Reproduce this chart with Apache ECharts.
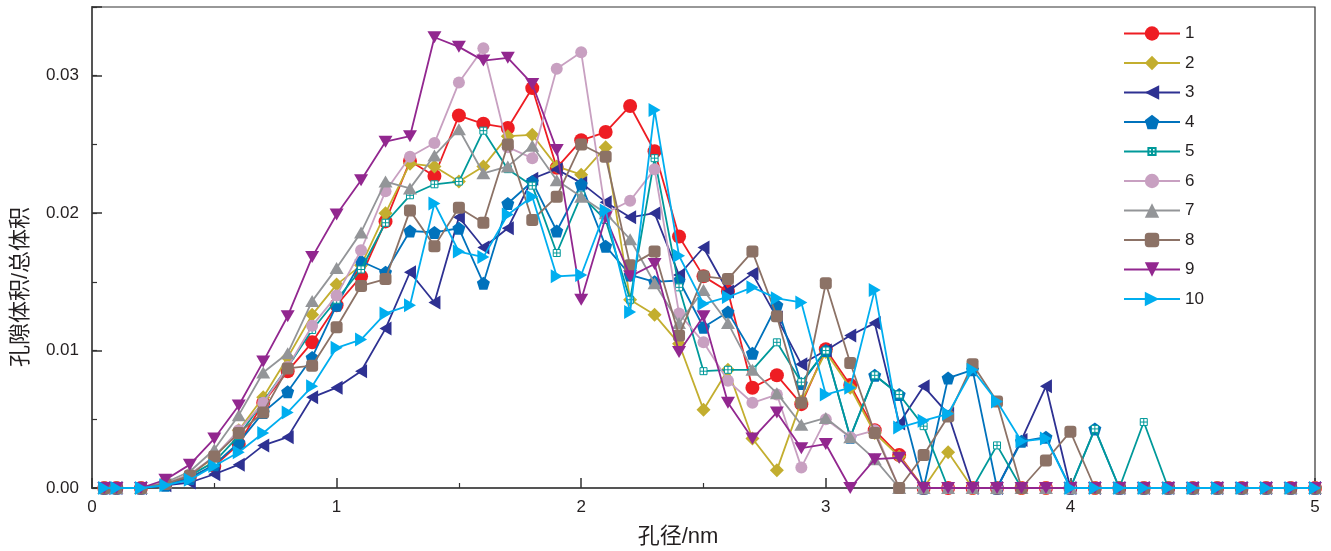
<!DOCTYPE html>
<html><head><meta charset="utf-8">
<script src="https://cdn.jsdelivr.net/npm/echarts@6/dist/echarts.min.js"></script>
<style>html,body{margin:0;padding:0;background:#fff}#c{width:1331px;height:551px}</style>
</head><body><div id="c"></div>
<script>
const xVals = [0.05,0.1,0.2,0.3,0.4,0.5,0.6,0.7,0.8,0.9,1.0,1.1,1.2,1.3,1.4,1.5,1.6,1.7,1.8,1.9,2.0,2.1,2.2,2.3,2.4,2.5,2.6,2.7,2.8,2.9,3.0,3.1,3.2,3.3,3.4,3.5,3.6,3.7,3.8,3.9,4.0,4.1,4.2,4.3,4.4,4.5,4.6,4.7,4.8,4.9,5.0];
const s1 = [0,0,0,0.0003,0.0008,0.0016,0.0032,0.0062,0.0085,0.0106,0.0133,0.0154,0.0194,0.0238,0.0227,0.0271,0.0265,0.0262,0.0291,0.0233,0.0253,0.0259,0.0278,0.0245,0.0183,0.0154,0.0143,0.0073,0.0082,0.0061,0.0101,0.0075,0.0042,0.0024,0,0,0,0,0,0,0,0,0,0,0,0,0,0,0,0,0];
const s2 = [0,0,0,0.0003,0.0010,0.0022,0.0042,0.0066,0.0095,0.0126,0.0148,0.0162,0.0200,0.0236,0.0234,0.0223,0.0234,0.0256,0.0257,0.0234,0.0228,0.0248,0.0137,0.0126,0.0105,0.0057,0.0086,0.0036,0.0013,0.0063,0.0099,0.0073,0.0040,0.0023,0,0.0026,0,0,0,0,0,0,0,0,0,0,0,0,0,0,0];
const s3 = [0,0,0,0.0002,0.0004,0.0010,0.0017,0.0031,0.0037,0.0066,0.0073,0.0085,0.0116,0.0157,0.0135,0.0197,0.0175,0.0189,0.0225,0.0232,0.0222,0.0208,0.0197,0.0200,0.0155,0.0175,0.0143,0.0156,0.0124,0.0090,0.0100,0.0111,0.0120,0.0047,0.0074,0.0054,0,0,0.0035,0.0074,0,0,0,0,0,0,0,0,0,0,0];
const s4 = [0,0,0,0.0002,0.0007,0.0017,0.0033,0.0055,0.0070,0.0095,0.0133,0.0165,0.0157,0.0187,0.0186,0.0189,0.0149,0.0207,0.0223,0.0187,0.0221,0.0176,0.0155,0.0150,0.0151,0.0117,0.0128,0.0098,0.0133,0.0076,0.0100,0.0037,0.0082,0.0068,0,0.0080,0.0086,0,0.0034,0.0037,0,0.0043,0,0,0,0,0,0,0,0,0];
const s5 = [0,0,0,0.0003,0.0009,0.0019,0.0038,0.0063,0.0088,0.0115,0.0137,0.0159,0.0193,0.0213,0.0221,0.0223,0.0260,0.0232,0.0220,0.0171,0.0213,0.0195,0.0137,0.0240,0.0146,0.0085,0.0086,0.0086,0.0106,0.0077,0.0100,0.0037,0.0082,0.0068,0.0045,0,0,0.0031,0,0,0,0.0043,0,0.0048,0,0,0,0,0,0,0];
const s6 = [0,0,0,0.0003,0.0010,0.0023,0.0042,0.0062,0.0088,0.0118,0.0140,0.0173,0.0216,0.0241,0.0251,0.0295,0.0320,0.0248,0.0240,0.0305,0.0317,0.0200,0.0209,0.0232,0.0127,0.0106,0.0078,0.0062,0.0068,0.0015,0.0050,0.0037,0.0042,0,0,0,0,0,0,0,0,0,0,0,0,0,0,0,0,0,0];
const s7 = [0,0,0,0.0004,0.0012,0.0028,0.0053,0.0084,0.0098,0.0136,0.0160,0.0186,0.0223,0.0218,0.0242,0.0261,0.0229,0.0234,0.0249,0.0224,0.0212,0.0200,0.0181,0.0149,0.0120,0.0144,0.0120,0.0086,0.0069,0.0046,0.0051,0.0037,0.0021,0,0,0,0,0,0,0,0,0,0,0,0,0,0,0,0,0,0];
const s8 = [0,0,0,0.0003,0.0009,0.0023,0.0040,0.0055,0.0087,0.0089,0.0117,0.0147,0.0152,0.0202,0.0176,0.0204,0.0193,0.0250,0.0195,0.0212,0.0250,0.0241,0.0162,0.0172,0.0111,0.0154,0.0152,0.0172,0.0125,0.0062,0.0149,0.0091,0.0040,0,0.0024,0.0052,0.0090,0.0063,0,0.0020,0.0041,0,0,0,0,0,0,0,0,0,0];
const s9 = [0,0,0,0.0006,0.0017,0.0036,0.0060,0.0092,0.0125,0.0168,0.0199,0.0224,0.0252,0.0256,0.0328,0.0321,0.0311,0.0313,0.0294,0.0246,0.0137,0.0197,0.0154,0.0163,0.0099,0.0125,0.0062,0.0036,0.0055,0.0029,0.0032,0,0.0021,0.0022,0,0,0,0,0,0,0,0,0,0,0,0,0,0,0,0,0];
const s10 = [0,0,0,0.0002,0.0006,0.0016,0.0026,0.0040,0.0055,0.0074,0.0102,0.0108,0.0127,0.0133,0.0207,0.0172,0.0168,0.0199,0.0212,0.0154,0.0155,0.0202,0.0128,0.0275,0.0169,0.0134,0.0139,0.0146,0.0138,0.0135,0.0068,0.0073,0.0144,0.0044,0.0049,0.0054,0.0086,0.0063,0.0034,0.0036,0,0,0,0,0,0,0,0,0,0,0];
const seriesNames = ['1','2','3','4','5','6','7','8','9','10'];
const yTickLabels = ['0.00','0.01','0.02','0.03'];
const xTickLabels = ['0','1','2','3','4','5'];

const allData = [s1,s2,s3,s4,s5,s6,s7,s8,s9,s10];
const colors = ['#EE1D23','#C3AE2F','#2E3192','#0072BC','#00999A','#C8A0C1','#939598','#8C7266','#92278F','#00AEEF'];
const symbols = [
  'circle',
  'diamond',
  'path://M0,50L86.6,0L86.6,100Z',
  'path://M50,0L100,38L81,100L19,100L0,38Z',
  'path://M-5,-5M0,0L10,0L10,10L0,10Z M5,0L5,10 M0,5L10,5 M15,15',
  'circle',
  'path://M50,0L100,86.6L0,86.6Z',
  'roundRect',
  'path://M0,0L100,0L50,86.6Z',
  'path://M0,0L86.6,50L0,100Z'
];
const sizes = [[14,14],[14,14],[12,14],[13,13],[14,14],[12,12],[14,12],[12,12],[14,12],[12,14]];

const series = allData.map((d, i) => {
  const itemStyle = i === 4
    ? {color:'#ffffff', borderColor: colors[i], borderWidth: 1}
    : {color: colors[i]};
  return {
    name: seriesNames[i],
    type: 'line',
    data: xVals.map((x, k) => [x, d[k]]),
    symbol: symbols[i],
    symbolSize: sizes[i],
    showAllSymbol: true,
    clip: false,
    lineStyle: {color: colors[i], width: 1.8},
    itemStyle: itemStyle,
    emphasis: {disabled: true},
    animation: false,
    z: 2 + i
  };
});

const chart = echarts.init(document.getElementById('c'), null, {renderer:'canvas'});
const fontNum = '"Liberation Sans", Arial, sans-serif';
chart.setOption({
  animation: false,
  backgroundColor: '#ffffff',
  grid: {left: 92, right: 16, top: 7, bottom: 63, show: true, borderColor: '#333', borderWidth: 1.2, backgroundColor: 'transparent'},
  legend: {
    data: seriesNames, orient: 'vertical', left: 1118, top: 20,
    itemWidth: 56, itemHeight: 18, itemGap: 12.5,
    textStyle: {fontSize: 17, color: '#231F20', fontFamily: fontNum},
    selectedMode: false
  },
  xAxis: {
    type: 'value', min: 0, max: 5, interval: 1,
    axisLine: {show: true, lineStyle: {color: '#555', width: 2}},
    axisTick: {show: true, inside: true, length: 10, lineStyle: {color: '#333', width: 1.5}},
    minorTick: {show: true, splitNumber: 2, length: 5, lineStyle: {color: '#333', width: 1.2}},
    axisLabel: {fontSize: 17, color: '#231F20', margin: 11, fontFamily: fontNum,
      formatter: v => { const i = Math.round(v); return Math.abs(v - i) < 1e-6 ? xTickLabels[i] : ''; }},
    splitLine: {show: false}
  },
  yAxis: [
    {
      type: 'value', min: 0, max: 0.035, interval: 0.01, position: 'left',
      axisLine: {show: true, lineStyle: {color: '#555', width: 2}},
      axisTick: {show: true, inside: true, length: 10, lineStyle: {color: '#333', width: 1.5}},
      axisLabel: {fontSize: 17, color: '#231F20', margin: 13, fontFamily: fontNum,
        formatter: v => { const i = Math.round(v * 100); return Math.abs(v * 100 - i) < 1e-6 && i < yTickLabels.length ? yTickLabels[i] : ''; }},
      splitLine: {show: false}
    },
    {
      type: 'value', min: 0, max: 0.035, interval: 0.005, position: 'left',
      axisLine: {show: false},
      axisTick: {show: true, inside: true, length: 5, lineStyle: {color: '#333', width: 1.2}},
      axisLabel: {show: false},
      splitLine: {show: false}
    }
  ],
  graphic: [
    {type: 'text', x: 678, y: 537, style: {text: '孔径/nm', font: '22px "Liberation Sans", "Noto Sans CJK SC"', fill: '#231F20', align: 'center', verticalAlign: 'middle'}},
    {type: 'text', x: 21, y: 287, rotation: Math.PI / 2, style: {text: '孔隙体积/总体积', font: '22px "Liberation Sans", "Noto Sans CJK SC"', fill: '#231F20', align: 'center', verticalAlign: 'middle'}}
  ],
  series: series
});
</script>
</body></html>
